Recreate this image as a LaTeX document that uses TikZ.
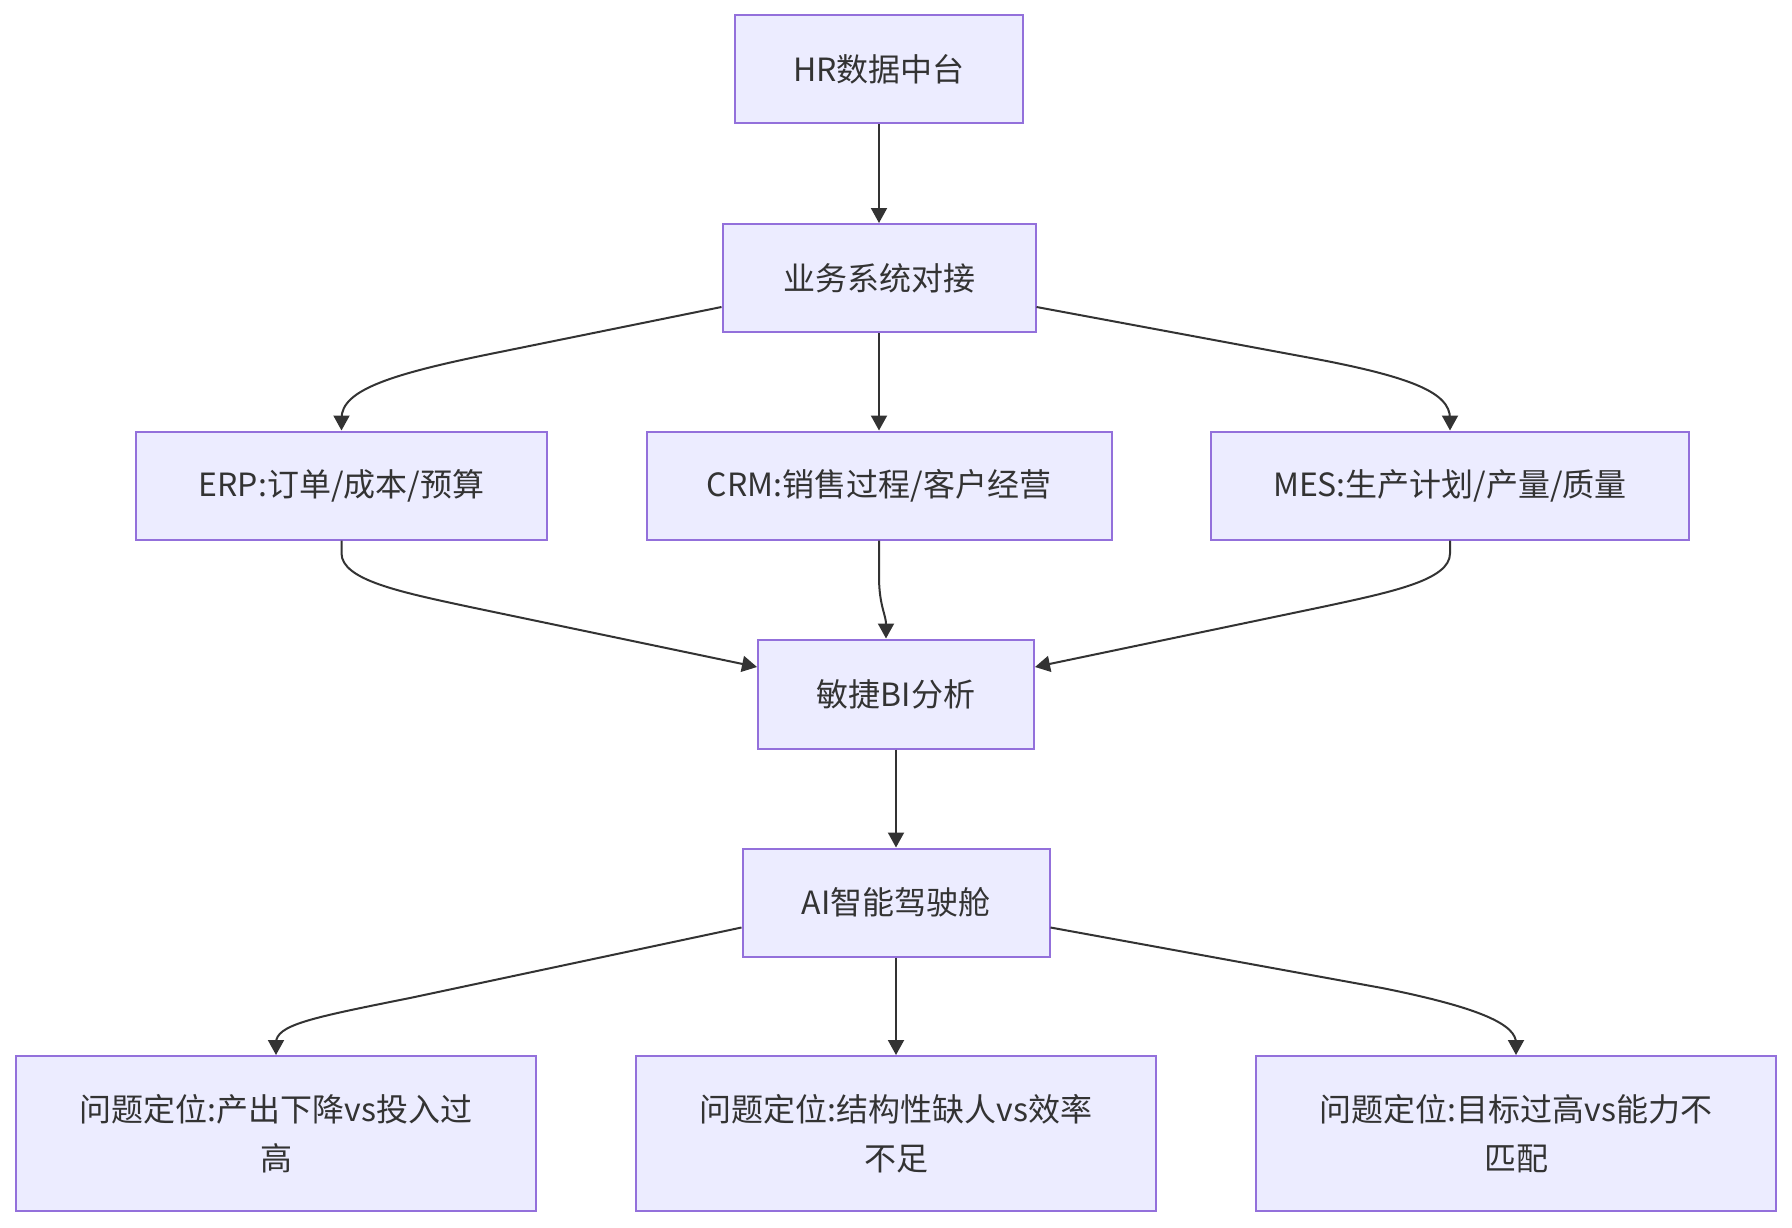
\documentclass[tikz,border=0pt]{standalone}
\usepackage{fontspec}
\setmainfont{Noto Sans CJK SC}
\usetikzlibrary{arrows.meta}
\definecolor{nodefill}{HTML}{ECECFF}
\definecolor{nodeborder}{HTML}{9370DB}
\definecolor{edgecol}{HTML}{333333}
\definecolor{textcol}{HTML}{333333}
\tikzset{
  box/.style={draw=nodeborder, fill=nodefill, line width=2pt, inner sep=0pt,
    minimum height=108pt, text=textcol, align=center,
    font=\fontsize{32pt}{49pt}\selectfont},
  tallbox/.style={box, minimum height=155pt, minimum width=520pt},
  edge/.style={draw=edgecol, line width=2pt, -{Triangle[length=15pt,width=16pt]}}
}
\begin{document}
\begin{tikzpicture}[x=1pt,y=-1pt]
\useasboundingbox (0,0) rectangle (1792,1228);
\fill[white] (0,0) rectangle (1792,1228);

\node[box, minimum width=288pt] (hr) at (879,69.5) {HR数据中台};
\node[box, minimum width=313pt] (bus) at (879,278) {业务系统对接};
\node[box, minimum width=411pt] (erp) at (341.5,485.5) {ERP:订单/成本/预算};
\node[box, minimum width=465pt] (crm) at (879,485.5) {CRM:销售过程/客户经营};
\node[box, minimum width=478pt] (mes) at (1450,485.5) {MES:生产计划/产量/质量};
\node[box, minimum width=276pt, minimum height=109pt] (bi) at (896,694) {敏捷BI分析};
\node[box, minimum width=307pt] (ai) at (896,902.5) {AI智能驾驶舱};
\node[tallbox] (p1) at (276,1133.5) {问题定位:产出下降vs投入过\\高};
\node[tallbox] (p2) at (896,1133.5) {问题定位:结构性缺人vs效率\\不足};
\node[tallbox] (p3) at (1516,1133.5) {问题定位:目标过高vs能力不\\匹配};

\draw[edge] (hr.south) -- (bus.north);
\draw[edge] ([yshift=-29pt]bus.west) -- (500,352) .. controls (390,374) and (erp.north |- 0,390) .. ([yshift=12pt]erp.north) -- (erp.north);
\draw[edge] (bus.south) -- (crm.north);
\draw[edge] ([yshift=-29pt]bus.east) -- (1300,356) .. controls (1410,376) and (mes.north |- 0,392) .. ([yshift=12pt]mes.north) -- (mes.north);

\draw[edge] (erp.south) -- ([yshift=-13pt]erp.south) .. controls (342,580) and (400,592) .. (470,607) -- ([yshift=27pt]bi.west);
\draw[edge] (crm.south) -- ([yshift=-36pt]crm.south) .. controls (879,605) and (886,615) .. ([xshift=-10pt]bi.north);
\draw[edge] (mes.south) -- ([yshift=-13pt]mes.south) .. controls (1450,580) and (1392,592) .. (1322,607) -- ([yshift=27pt]bi.east);

\draw[edge] (bi.south) -- (ai.north);
\draw[edge] ([yshift=-25pt]ai.west) -- (410,998) .. controls (310,1018) and (p1.north |- 0,1025) .. ([yshift=12pt]p1.north) -- (p1.north);
\draw[edge] (ai.south) -- (p2.north);
\draw[edge] ([yshift=-25pt]ai.east) -- (1382,988) .. controls (1482,1008) and (p3.north |- 0,1025) .. ([yshift=12pt]p3.north) -- (p3.north);
\end{tikzpicture}
\end{document}
